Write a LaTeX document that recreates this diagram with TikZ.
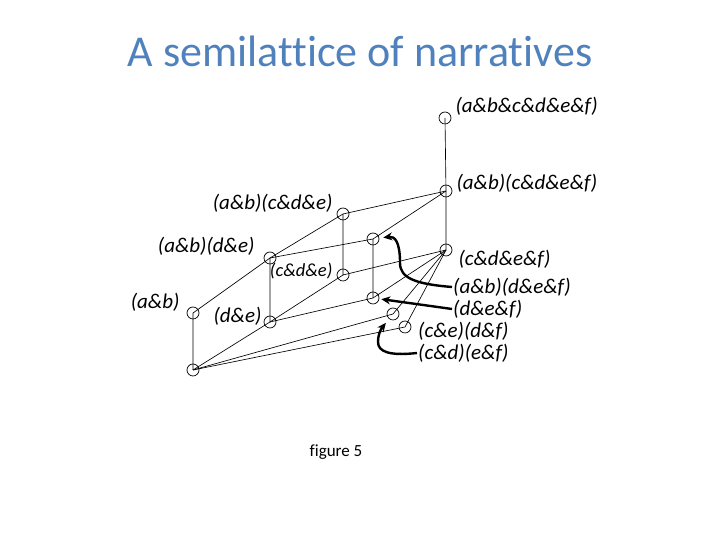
\documentclass[tikz,border=0pt]{standalone}
\usepackage{fontspec}
\setmainfont{Carlito}[Ligatures=NoCommon]
\usepackage{xcolor}
\usetikzlibrary{arrows.meta}
\usetikzlibrary{positioning}
\definecolor{azultitulo}{RGB}{79,129,189}
\tikzset{
  ponto/.style={draw, circle, minimum size=12pt, inner sep=0pt, line width=0.7pt},
  rotulo/.style={inner sep=1pt, font=\fontsize{#1}{#1}\selectfont\itshape},
  rotulo/.default=21,
  aresta/.style={line width=0.65pt},
  flecha/.style={-{Stealth[length=9pt,width=8pt]}, line width=2.4pt},
}

\begin{document}
\begin{tikzpicture}[x=1pt, y=1pt, node distance=3pt]
  \useasboundingbox (0,0) rectangle (720,540);
  \node[font=\fontsize{44}{44}\selectfont, text=azultitulo] (titulo) at (360,489) {A semilattice of narratives};

  \node[ponto] (abcdef) at (445,422) {};
  \node[ponto] (abxcdef) at (446,349) {};
  \node[ponto] (cdef) at (446,290) {};
  \node[ponto] (abxcde) at (343,326) {};
  \node[ponto] (abxdef) at (373,301) {};
  \node[ponto] (abxde) at (270,282) {};
  \node[ponto] (cde) at (343,265) {};
  \node[ponto] (def) at (373,242) {};
  \node[ponto] (ab) at (193,227) {};
  \node[ponto] (de) at (270,218) {};
  \node[ponto] (cdxef) at (393,226) {};
  \node[ponto] (cexdf) at (405,213) {};
  \node[ponto] (base) at (193,170) {};

  \node[rotulo, right=3pt of abcdef, yshift=12pt] (l-abcdef) {(a\&b\&c\&d\&e\&f)};
  \node[rotulo, right=3pt of abxcdef, yshift=8pt] (l-abxcdef) {(a\&b)(c\&d\&e\&f)};
  \node[rotulo, right=5pt of cdef, yshift=-9pt] (l-cdef) {(c\&d\&e\&f)};
  \node[rotulo, left=3pt of abxcde, yshift=11pt] (l-abxcde) {(a\&b)(c\&d\&e)};
  \node[rotulo, left=8pt of abxde, yshift=12pt] (l-abxde) {(a\&b)(d\&e)};
  \node[rotulo=18.5, left=3pt of cde, yshift=4pt] (l-cde) {(c\&d\&e)};
  \node[rotulo, left=6pt of ab, yshift=11pt] (l-ab) {(a\&b)};
  \node[rotulo, left=1pt of de, yshift=6pt] (l-de) {(d\&e)};

  \node[rotulo, anchor=west] (t-abxdef) at (452,253) {(a\&b)(d\&e\&f)};
  \node[rotulo, anchor=west] (t-def) at (452,231) {(d\&e\&f)};
  \node[rotulo, anchor=west] (t-cexdf) at (417,209) {(c\&e)(d\&f)};
  \node[rotulo, anchor=west] (t-cdxef) at (417,187) {(c\&d)(e\&f)};

  \node[font=\fontsize{17}{17}\selectfont] (legenda) at (336,88) {figure 5};

  \draw[aresta] (abcdef.center) -- (abxcdef.center) -- (cdef.center);
  \draw[aresta] (abxcdef.center) -- (abxcde.center) -- (abxde.center) -- (ab.center) -- (base.center);
  \draw[aresta] (abxcdef.center) -- (abxdef.center) -- (def.center);
  \draw[aresta] (abxcde.center) -- (cde.center) -- (cdef.center);
  \draw[aresta] (abxde.center) -- (abxdef.center);
  \draw[aresta] (abxde.center) -- (de.center) -- (base.center);
  \draw[aresta] (de.center) -- (cde.center);
  \draw[aresta] (de.center) -- (def.center) -- (cdef.center);
  \draw[aresta] (cdef.center) -- (cdxef.center) -- (base.center);
  \draw[aresta] (cdef.center) -- (cexdf.center) -- (base.center);

  \draw[flecha, shorten >=4pt] (t-abxdef.west) .. controls (415,256) and (400,262) .. (400,277) .. controls (400,298) and (395,304) .. (abxdef);
  \draw[flecha, shorten >=2pt] (t-def.west) -- (def);
  \draw[flecha, shorten >=5pt] (t-cdxef.west) .. controls (390,184) and (378,188) .. (378,198) .. controls (378,206) and (381,211) .. (cdxef);
\end{tikzpicture}
\end{document}
